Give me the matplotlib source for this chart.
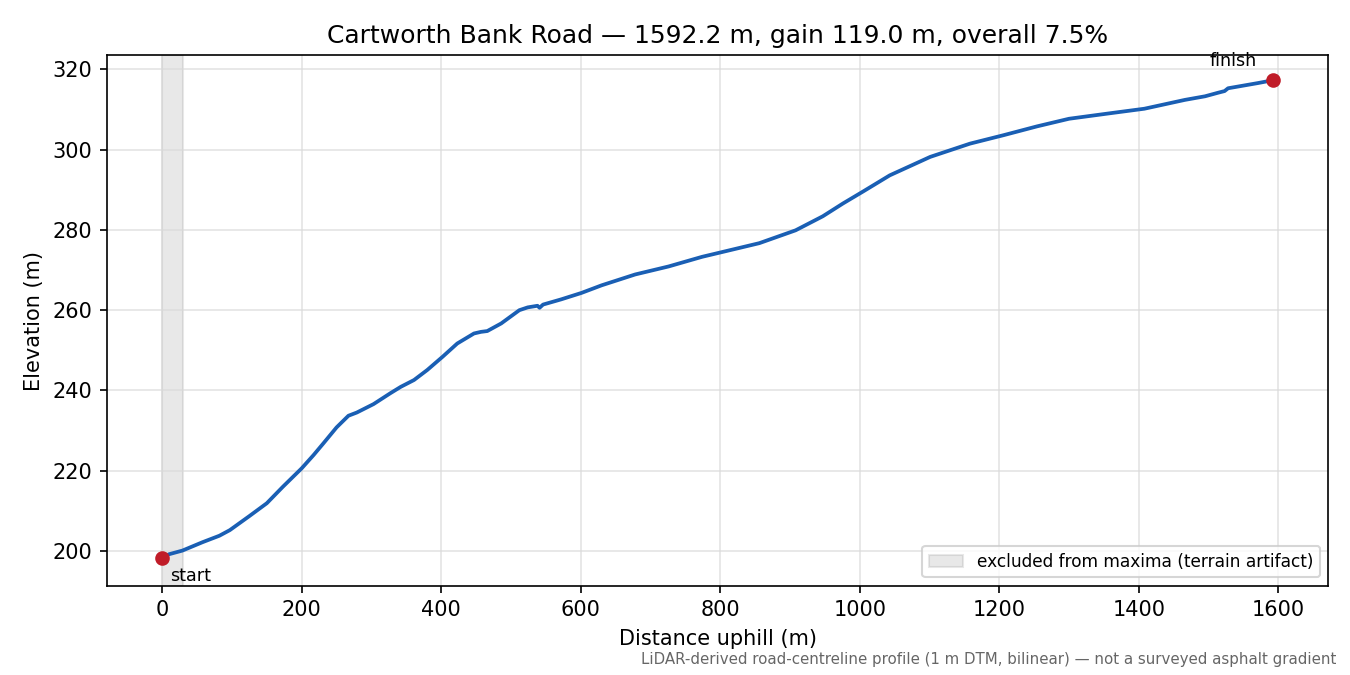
import numpy as np
import matplotlib.pyplot as plt

# Profile (distance uphill in m, elevation in m)
dist = [0, 10, 29, 58, 82, 97, 125, 150, 173, 200, 217, 231, 250, 267, 279,
        303, 327, 342, 361, 380, 402, 423, 447, 457, 466, 486, 512, 524, 538,
        541, 546, 572, 601, 630, 678, 726, 774, 803, 856, 908, 947, 976, 1005,
        1043, 1101, 1158, 1206, 1254, 1300, 1360, 1408, 1466, 1495, 1514, 1523,
        1528, 1538, 1571, 1592.2]
elev = [198.3, 199.2, 200.1, 202.2, 203.8, 205.2, 208.7, 211.9, 216.0, 220.6,
        223.9, 226.8, 230.8, 233.7, 234.5, 236.6, 239.3, 240.9, 242.6, 245.1,
        248.4, 251.7, 254.2, 254.6, 254.8, 256.7, 260.0, 260.7, 261.1, 260.6,
        261.4, 262.7, 264.3, 266.2, 268.9, 270.9, 273.3, 274.5, 276.7, 279.9,
        283.4, 286.6, 289.6, 293.6, 298.2, 301.5, 303.6, 305.8, 307.7, 309.1,
        310.2, 312.4, 313.3, 314.2, 314.6, 315.3, 315.6, 316.6, 317.3]
excluded = (0, 30)

road = 'Cartworth Bank Road'
length = dist[-1]
gain = elev[-1] - elev[0]
grade = gain / length * 100

fig, ax = plt.subplots(figsize=(9, 4.5), dpi=150)
ax.axvspan(excluded[0], excluded[1], color='0.55', alpha=0.2,
           label='excluded from maxima (terrain artifact)')
ax.plot(dist, elev, color='#1a5fb4', lw=1.8)
ax.plot([dist[0], dist[-1]], [elev[0], elev[-1]], 'o', color='#c01c28', ms=6, zorder=5)
ax.annotate('start', (dist[0], elev[0]), xytext=(4, -8.5), textcoords='offset points',
            fontsize=8.4, va='center')
ax.annotate('finish', (dist[-1], elev[-1]), xytext=(-19, 9), textcoords='offset points',
            fontsize=8.4, ha='center', va='center')

ax.set_title(f'{road} \u2014 {length:.1f} m, gain {gain:.1f} m, overall {grade:.1f}%')
ax.set_xlabel('Distance uphill (m)')
ax.set_ylabel('Elevation (m)')
ax.set_ylim(191.3, 323.5)
ax.grid(True, color='0.85', lw=0.8, alpha=0.7)
ax.legend(loc='lower right', fontsize=8.15)

fig.text(0.99, 0.012, 'LiDAR-derived road-centreline profile (1 m DTM, bilinear) \u2014 not a surveyed asphalt gradient',
         ha='right', va='bottom', fontsize=7.2, color='0.4')
fig.subplots_adjust(left=0.079, right=0.984, top=0.918, bottom=0.132)
fig.savefig('out.png', dpi=150)
